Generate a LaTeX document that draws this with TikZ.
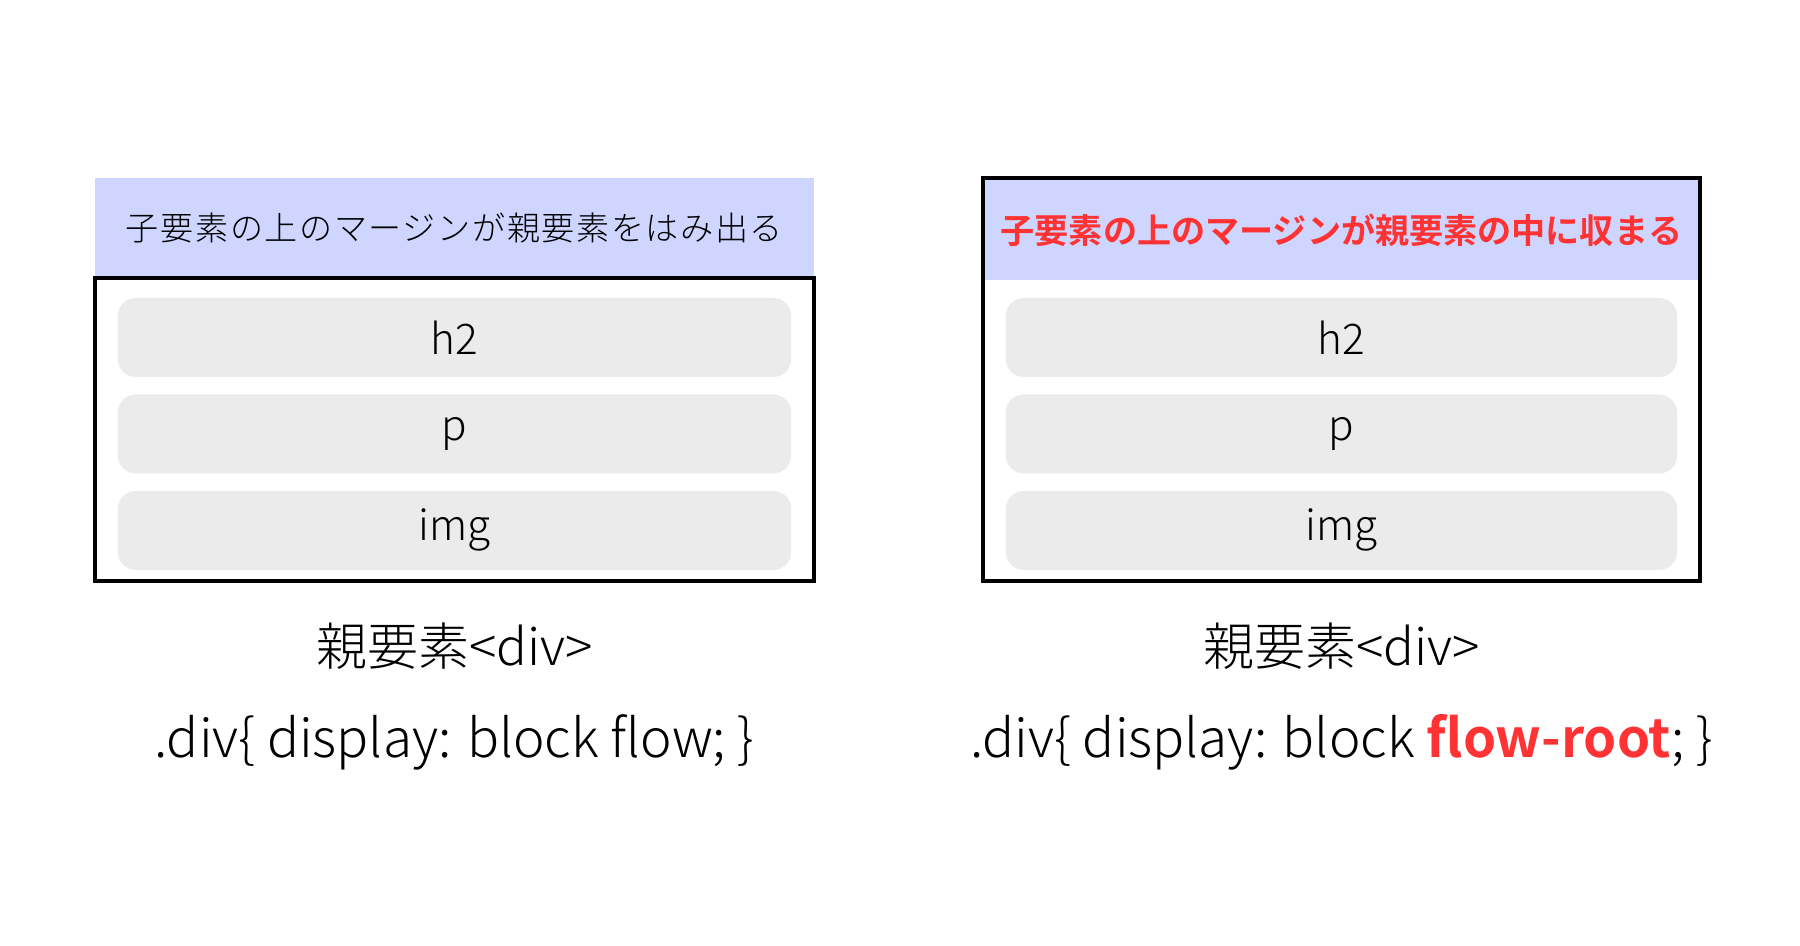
\documentclass[tikz,border=0pt]{standalone}
\usepackage{fontspec}
\setmainfont{Noto Sans CJK JP}[UprightFont=* Light, BoldFont=* Bold]
\usepackage{xcolor}
\usetikzlibrary{positioning}

\definecolor{bandblue}{RGB}{206,214,255}
\definecolor{boxgray}{RGB}{235,235,235}
\definecolor{hotred}{RGB}{255,51,51}

\begin{document}
\begin{tikzpicture}[
  x=0.01cm, y=-0.01cm,
  frame/.style={draw, line width=1pt, minimum width=7.19cm, inner sep=0pt},
  band/.style={fill=bandblue, minimum width=7.19cm, minimum height=1.0cm,
    inner sep=0pt, font=\fontsize{9.4}{11}\selectfont\addfontfeature{LetterSpace=5}},
  childbox/.style={fill=boxgray, rounded corners=0.18cm, minimum width=6.73cm,
    minimum height=0.79cm, inner sep=0pt, font=\fontsize{12}{14}\selectfont},
  caption/.style={font=\fontsize{14.5}{17}\selectfont},
  csscode/.style={font=\fontsize{15.1}{18}\selectfont},
  node distance=0.16cm,
]
\useasboundingbox (0,0) rectangle (1800,945);

% ===== LEFT: block flow =====
\node[band] (lband) at (454.5,228) {子要素の上のマージンが親要素をはみ出る};
\node[frame, minimum height=3.03cm] (lframe) at (454.5,429.5) {};
\node[childbox] (lh2) at (454.5,337.5) {h2};
\node[childbox, below=of lh2] (lp) {p};
\node[childbox, below=of lp] (limg) {img};
\node[caption] (lname) at (454.5,646) {親要素<div>};
\node[csscode] (lcss) at (454.5,742) {.div\{ display: block flow; \}};

% ===== RIGHT: block flow-root =====
\node[band, minimum width=7.15cm, font=\fontsize{9.7}{11}\bfseries\color{hotred}]
  (rband) at (1341.5,230) {子要素の上のマージンが親要素の中に収まる};
\node[frame, minimum width=7.17cm, minimum height=4.03cm] (rframe) at (1341.5,379.5) {};
\node[childbox, minimum width=6.71cm] (rh2) at (1341.5,337.5) {h2};
\node[childbox, minimum width=6.71cm, below=of rh2] (rp) {p};
\node[childbox, minimum width=6.71cm, below=of rp] (rimg) {img};
\node[caption] (rname) at (1341.5,646) {親要素<div>};
\node[csscode] (rcss) at (1341.5,742)
  {.div\{ display: block {\color{hotred}\bfseries flow-root}; \}};

\end{tikzpicture}
\end{document}
